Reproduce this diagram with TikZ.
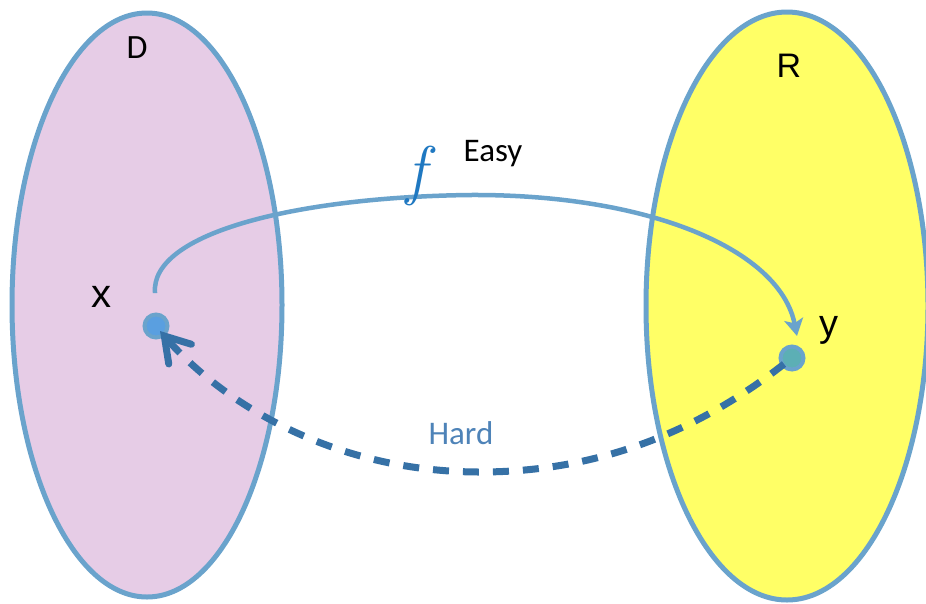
\documentclass[tikz,border=0pt]{standalone}
\usepackage{fontspec}
\setmainfont{Carlito}
\newfontfamily\arialf{Liberation Sans}
\newfontfamily\lmr{Latin Modern Roman}
\usetikzlibrary{arrows.meta}
\definecolor{edgeblue}{HTML}{6AA3CC}
\definecolor{darkblue}{HTML}{3671A6}
\definecolor{hardtext}{HTML}{4E83B8}
\definecolor{fblue}{HTML}{1F78C1}
\definecolor{dfill}{HTML}{E6CCE6}
\definecolor{rfill}{HTML}{FFFF66}
\definecolor{xdot}{HTML}{5A9FE0}
\definecolor{ydot}{HTML}{5CAFB5}
\tikzset{
  setshape/.style={draw=edgeblue, line width=5pt},
  dotstyle/.style={circle, draw=edgeblue, line width=4pt, minimum size=23pt, inner sep=0pt},
  lbl/.style={inner sep=0pt, anchor=center},
  easyarrow/.style={draw=edgeblue, line width=4.5pt, -{Stealth[length=17pt,width=19pt,inset=4pt]}},
  hardarrow/.style={draw=darkblue, line width=7pt, dash pattern=on 16pt off 14pt,
    -{Straight Barb[length=24pt,width=30pt,line cap=round]}}
}
\begin{document}
\begin{tikzpicture}[x=1pt,y=-1pt]
\useasboundingbox (0,0) rectangle (926,603);
\clip (0,0) rectangle (926,603);
\fill[white] (0,0) rectangle (926,603);
% sets
\path[setshape, fill=dfill] (147,305) ellipse [x radius=135, y radius=292];
\path[setshape, fill=rfill] (787,306) ellipse [x radius=141, y radius=294];
% labels
\node[lbl, font=\fontsize{34}{34}\selectfont] (D) at (137,48) {D};
\node[lbl, font=\arialf\fontsize{34}{34}\selectfont] (R) at (789,66) {R};
\node[lbl, font=\arialf\fontsize{40}{40}\selectfont] (xl) at (101,297) {x};
\node[lbl, font=\arialf\fontsize{38}{38}\selectfont] (yl) at (829,330) {y};
% dots
\node[dotstyle, fill=xdot] (xd) at (156,326) {};
\node[dotstyle, fill=ydot] (yd) at (792,358) {};
% easy arrow
\coordinate (es) at (155,293);
\coordinate (etop) at (470,195);
\coordinate (ee) at (797,336);
\path[easyarrow] (es) .. controls (150,232) and (300,197) .. (etop)
  .. controls (650,194) and (780,250) .. (ee);
\node[lbl, text=fblue, font=\lmr\itshape\fontsize{66}{66}\selectfont] (f) at (416,176) {f};
\node[lbl, font=\fontsize{33}{33}\selectfont] (easy) at (493,154) {Easy};
% hard arrow
\coordinate (hs) at (784,364);
\coordinate (hbot) at (480,472);
\coordinate (he) at (160,331);
\path[hardarrow] (hs) .. controls (700,430) and (600,472) .. (hbot)
  .. controls (330,472) and (220,400) .. (he);
\node[lbl, text=hardtext, font=\fontsize{33}{33}\selectfont] (hard) at (461,433) {Hard};
\end{tikzpicture}
\end{document}
